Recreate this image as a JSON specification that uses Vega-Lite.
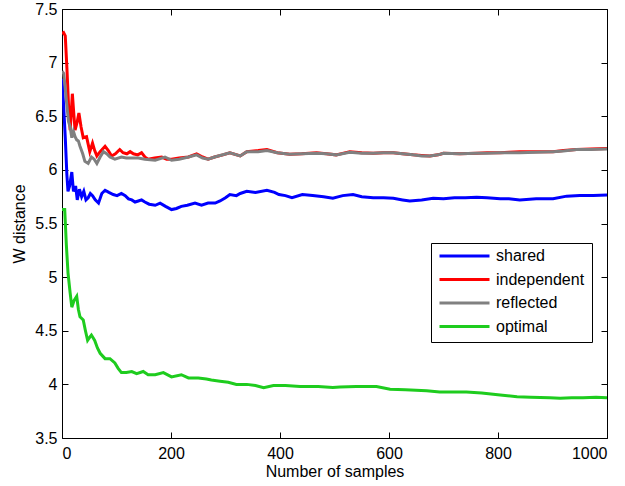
{
  "$schema": "https://vega.github.io/schema/vega-lite/v6.json",
  "width": 545,
  "height": 429,
  "autosize": "none",
  "padding": {"left": 62, "top": 9, "right": 18, "bottom": 48},
  "background": "white",
  "config": {
    "font": "Liberation Sans",
    "view": {"stroke": "black", "strokeWidth": 1},
    "axis": {
      "domain": false,
      "grid": false,
      "tickColor": "black",
      "tickSize": -6,
      "labelFontSize": 16,
      "labelColor": "black",
      "labelFont": "Liberation Sans",
      "titleFont": "Liberation Sans",
      "titleFontSize": 16,
      "titleFontWeight": "normal",
      "titleColor": "black"
    }
  },
  "data": {
    "values": [
      {"n":0,"s":"shared","w":6.85},{"n":3,"s":"shared","w":6.6},{"n":6,"s":"shared","w":6.3},{"n":9,"s":"shared","w":5.95},{"n":11,"s":"shared","w":5.8},{"n":14,"s":"shared","w":5.85},{"n":18,"s":"shared","w":5.98},{"n":21,"s":"shared","w":5.8},{"n":25,"s":"shared","w":5.85},{"n":28,"s":"shared","w":5.72},{"n":32,"s":"shared","w":5.82},{"n":36,"s":"shared","w":5.75},{"n":40,"s":"shared","w":5.8},{"n":44,"s":"shared","w":5.72},{"n":48,"s":"shared","w":5.74},{"n":52,"s":"shared","w":5.78},{"n":56,"s":"shared","w":5.76},{"n":61,"s":"shared","w":5.72},{"n":67,"s":"shared","w":5.69},{"n":73,"s":"shared","w":5.78},{"n":79,"s":"shared","w":5.81},{"n":86,"s":"shared","w":5.79},{"n":94,"s":"shared","w":5.77},{"n":101,"s":"shared","w":5.76},{"n":109,"s":"shared","w":5.78},{"n":116,"s":"shared","w":5.76},{"n":122,"s":"shared","w":5.73},{"n":128,"s":"shared","w":5.72},{"n":134,"s":"shared","w":5.7},{"n":140,"s":"shared","w":5.71},{"n":146,"s":"shared","w":5.72},{"n":152,"s":"shared","w":5.7},{"n":160,"s":"shared","w":5.68},{"n":171,"s":"shared","w":5.67},{"n":180,"s":"shared","w":5.69},{"n":190,"s":"shared","w":5.66},{"n":201,"s":"shared","w":5.63},{"n":210,"s":"shared","w":5.64},{"n":219,"s":"shared","w":5.66},{"n":230,"s":"shared","w":5.67},{"n":244,"s":"shared","w":5.69},{"n":256,"s":"shared","w":5.67},{"n":268,"s":"shared","w":5.69},{"n":281,"s":"shared","w":5.69},{"n":290,"s":"shared","w":5.71},{"n":300,"s":"shared","w":5.74},{"n":308,"s":"shared","w":5.77},{"n":320,"s":"shared","w":5.76},{"n":327,"s":"shared","w":5.78},{"n":339,"s":"shared","w":5.8},{"n":355,"s":"shared","w":5.79},{"n":376,"s":"shared","w":5.81},{"n":390,"s":"shared","w":5.79},{"n":398,"s":"shared","w":5.77},{"n":410,"s":"shared","w":5.76},{"n":422,"s":"shared","w":5.74},{"n":441,"s":"shared","w":5.77},{"n":460,"s":"shared","w":5.76},{"n":480,"s":"shared","w":5.75},{"n":497,"s":"shared","w":5.735},{"n":515,"s":"shared","w":5.76},{"n":534,"s":"shared","w":5.77},{"n":550,"s":"shared","w":5.75},{"n":571,"s":"shared","w":5.74},{"n":590,"s":"shared","w":5.74},{"n":608,"s":"shared","w":5.735},{"n":625,"s":"shared","w":5.72},{"n":638,"s":"shared","w":5.71},{"n":660,"s":"shared","w":5.72},{"n":681,"s":"shared","w":5.735},{"n":700,"s":"shared","w":5.73},{"n":720,"s":"shared","w":5.74},{"n":740,"s":"shared","w":5.74},{"n":761,"s":"shared","w":5.745},{"n":780,"s":"shared","w":5.74},{"n":804,"s":"shared","w":5.73},{"n":820,"s":"shared","w":5.73},{"n":840,"s":"shared","w":5.72},{"n":870,"s":"shared","w":5.73},{"n":901,"s":"shared","w":5.73},{"n":926,"s":"shared","w":5.755},{"n":950,"s":"shared","w":5.76},{"n":975,"s":"shared","w":5.76},{"n":1000,"s":"shared","w":5.765},

      {"n":0,"s":"independent","w":7.27},{"n":3,"s":"independent","w":7.28},{"n":6,"s":"independent","w":7.25},{"n":9,"s":"independent","w":6.95},{"n":12,"s":"independent","w":6.6},{"n":15,"s":"independent","w":6.37},{"n":19,"s":"independent","w":6.71},{"n":22,"s":"independent","w":6.5},{"n":24,"s":"independent","w":6.37},{"n":28,"s":"independent","w":6.45},{"n":31,"s":"independent","w":6.53},{"n":35,"s":"independent","w":6.4},{"n":39,"s":"independent","w":6.3},{"n":45,"s":"independent","w":6.31},{"n":51,"s":"independent","w":6.17},{"n":56,"s":"independent","w":6.25},{"n":60,"s":"independent","w":6.18},{"n":64,"s":"independent","w":6.13},{"n":70,"s":"independent","w":6.17},{"n":79,"s":"independent","w":6.22},{"n":85,"s":"independent","w":6.18},{"n":91,"s":"independent","w":6.13},{"n":98,"s":"independent","w":6.15},{"n":106,"s":"independent","w":6.19},{"n":112,"s":"independent","w":6.16},{"n":119,"s":"independent","w":6.15},{"n":125,"s":"independent","w":6.17},{"n":131,"s":"independent","w":6.15},{"n":139,"s":"independent","w":6.14},{"n":146,"s":"independent","w":6.16},{"n":152,"s":"independent","w":6.12},{"n":158,"s":"independent","w":6.1},{"n":170,"s":"independent","w":6.11},{"n":183,"s":"independent","w":6.12},{"n":192,"s":"independent","w":6.1},{"n":201,"s":"independent","w":6.1},{"n":215,"s":"independent","w":6.11},{"n":232,"s":"independent","w":6.12},{"n":247,"s":"independent","w":6.15},{"n":258,"s":"independent","w":6.12},{"n":268,"s":"independent","w":6.1},{"n":280,"s":"independent","w":6.12},{"n":295,"s":"independent","w":6.14},{"n":308,"s":"independent","w":6.16},{"n":327,"s":"independent","w":6.13},{"n":339,"s":"independent","w":6.17},{"n":360,"s":"independent","w":6.18},{"n":376,"s":"independent","w":6.19},{"n":395,"s":"independent","w":6.16},{"n":418,"s":"independent","w":6.145},{"n":440,"s":"independent","w":6.15},{"n":467,"s":"independent","w":6.16},{"n":485,"s":"independent","w":6.15},{"n":503,"s":"independent","w":6.14},{"n":528,"s":"independent","w":6.17},{"n":550,"s":"independent","w":6.16},{"n":571,"s":"independent","w":6.155},{"n":590,"s":"independent","w":6.16},{"n":608,"s":"independent","w":6.16},{"n":625,"s":"independent","w":6.15},{"n":644,"s":"independent","w":6.14},{"n":660,"s":"independent","w":6.135},{"n":675,"s":"independent","w":6.13},{"n":690,"s":"independent","w":6.14},{"n":700,"s":"independent","w":6.155},{"n":730,"s":"independent","w":6.15},{"n":761,"s":"independent","w":6.155},{"n":780,"s":"independent","w":6.16},{"n":804,"s":"independent","w":6.16},{"n":820,"s":"independent","w":6.165},{"n":840,"s":"independent","w":6.17},{"n":870,"s":"independent","w":6.17},{"n":901,"s":"independent","w":6.17},{"n":920,"s":"independent","w":6.18},{"n":944,"s":"independent","w":6.19},{"n":970,"s":"independent","w":6.195},{"n":1000,"s":"independent","w":6.2},

      {"n":0,"s":"reflected","w":6.92},{"n":3,"s":"reflected","w":6.9},{"n":5,"s":"reflected","w":6.81},{"n":8,"s":"reflected","w":6.65},{"n":12,"s":"reflected","w":6.45},{"n":15,"s":"reflected","w":6.4},{"n":18,"s":"reflected","w":6.3},{"n":21,"s":"reflected","w":6.36},{"n":24,"s":"reflected","w":6.31},{"n":27,"s":"reflected","w":6.28},{"n":30,"s":"reflected","w":6.27},{"n":33,"s":"reflected","w":6.22},{"n":38,"s":"reflected","w":6.15},{"n":42,"s":"reflected","w":6.08},{"n":48,"s":"reflected","w":6.06},{"n":54,"s":"reflected","w":6.12},{"n":59,"s":"reflected","w":6.1},{"n":64,"s":"reflected","w":6.06},{"n":70,"s":"reflected","w":6.12},{"n":76,"s":"reflected","w":6.17},{"n":82,"s":"reflected","w":6.15},{"n":88,"s":"reflected","w":6.12},{"n":97,"s":"reflected","w":6.1},{"n":109,"s":"reflected","w":6.12},{"n":118,"s":"reflected","w":6.11},{"n":128,"s":"reflected","w":6.11},{"n":140,"s":"reflected","w":6.11},{"n":152,"s":"reflected","w":6.1},{"n":171,"s":"reflected","w":6.09},{"n":189,"s":"reflected","w":6.12},{"n":201,"s":"reflected","w":6.09},{"n":215,"s":"reflected","w":6.1},{"n":232,"s":"reflected","w":6.12},{"n":247,"s":"reflected","w":6.14},{"n":258,"s":"reflected","w":6.11},{"n":268,"s":"reflected","w":6.1},{"n":280,"s":"reflected","w":6.12},{"n":308,"s":"reflected","w":6.16},{"n":327,"s":"reflected","w":6.13},{"n":339,"s":"reflected","w":6.17},{"n":360,"s":"reflected","w":6.17},{"n":376,"s":"reflected","w":6.18},{"n":395,"s":"reflected","w":6.16},{"n":418,"s":"reflected","w":6.145},{"n":440,"s":"reflected","w":6.15},{"n":467,"s":"reflected","w":6.155},{"n":485,"s":"reflected","w":6.15},{"n":503,"s":"reflected","w":6.14},{"n":528,"s":"reflected","w":6.165},{"n":550,"s":"reflected","w":6.155},{"n":571,"s":"reflected","w":6.155},{"n":590,"s":"reflected","w":6.16},{"n":608,"s":"reflected","w":6.16},{"n":625,"s":"reflected","w":6.15},{"n":644,"s":"reflected","w":6.14},{"n":660,"s":"reflected","w":6.13},{"n":675,"s":"reflected","w":6.13},{"n":690,"s":"reflected","w":6.14},{"n":700,"s":"reflected","w":6.155},{"n":730,"s":"reflected","w":6.15},{"n":761,"s":"reflected","w":6.155},{"n":780,"s":"reflected","w":6.155},{"n":804,"s":"reflected","w":6.16},{"n":820,"s":"reflected","w":6.16},{"n":840,"s":"reflected","w":6.16},{"n":870,"s":"reflected","w":6.165},{"n":901,"s":"reflected","w":6.17},{"n":920,"s":"reflected","w":6.175},{"n":944,"s":"reflected","w":6.19},{"n":970,"s":"reflected","w":6.19},{"n":1000,"s":"reflected","w":6.195},

      {"n":0,"s":"optimal","w":5.63},{"n":5,"s":"optimal","w":5.63},{"n":8,"s":"optimal","w":5.3},{"n":11,"s":"optimal","w":5.04},{"n":15,"s":"optimal","w":4.85},{"n":18,"s":"optimal","w":4.72},{"n":22,"s":"optimal","w":4.78},{"n":27,"s":"optimal","w":4.82},{"n":30,"s":"optimal","w":4.7},{"n":33,"s":"optimal","w":4.63},{"n":39,"s":"optimal","w":4.6},{"n":43,"s":"optimal","w":4.5},{"n":47,"s":"optimal","w":4.41},{"n":51,"s":"optimal","w":4.44},{"n":54,"s":"optimal","w":4.46},{"n":60,"s":"optimal","w":4.41},{"n":65,"s":"optimal","w":4.34},{"n":70,"s":"optimal","w":4.29},{"n":79,"s":"optimal","w":4.24},{"n":88,"s":"optimal","w":4.24},{"n":97,"s":"optimal","w":4.2},{"n":103,"s":"optimal","w":4.15},{"n":109,"s":"optimal","w":4.11},{"n":118,"s":"optimal","w":4.11},{"n":128,"s":"optimal","w":4.12},{"n":137,"s":"optimal","w":4.1},{"n":149,"s":"optimal","w":4.12},{"n":158,"s":"optimal","w":4.09},{"n":171,"s":"optimal","w":4.09},{"n":186,"s":"optimal","w":4.11},{"n":201,"s":"optimal","w":4.07},{"n":219,"s":"optimal","w":4.09},{"n":232,"s":"optimal","w":4.06},{"n":250,"s":"optimal","w":4.06},{"n":265,"s":"optimal","w":4.05},{"n":274,"s":"optimal","w":4.04},{"n":290,"s":"optimal","w":4.03},{"n":305,"s":"optimal","w":4.02},{"n":320,"s":"optimal","w":4.0},{"n":339,"s":"optimal","w":4.0},{"n":355,"s":"optimal","w":3.99},{"n":370,"s":"optimal","w":3.97},{"n":388,"s":"optimal","w":3.99},{"n":410,"s":"optimal","w":3.99},{"n":437,"s":"optimal","w":3.98},{"n":470,"s":"optimal","w":3.98},{"n":497,"s":"optimal","w":3.97},{"n":510,"s":"optimal","w":3.975},{"n":540,"s":"optimal","w":3.98},{"n":577,"s":"optimal","w":3.98},{"n":602,"s":"optimal","w":3.955},{"n":630,"s":"optimal","w":3.95},{"n":669,"s":"optimal","w":3.94},{"n":693,"s":"optimal","w":3.93},{"n":720,"s":"optimal","w":3.93},{"n":742,"s":"optimal","w":3.93},{"n":770,"s":"optimal","w":3.92},{"n":804,"s":"optimal","w":3.9},{"n":835,"s":"optimal","w":3.885},{"n":860,"s":"optimal","w":3.88},{"n":895,"s":"optimal","w":3.875},{"n":914,"s":"optimal","w":3.87},{"n":935,"s":"optimal","w":3.875},{"n":956,"s":"optimal","w":3.875},{"n":980,"s":"optimal","w":3.88},{"n":1000,"s":"optimal","w":3.875}
    ]
  },
  "layer": [
    {
      "mark": {"type": "line", "strokeWidth": 3, "clip": true},
      "encoding": {
        "x": {
          "field": "n", "type": "quantitative",
          "scale": {"domain": [0, 1000], "nice": false, "zero": false},
          "axis": {"values": [0, 200, 400, 600, 800, 1000], "labelExpr": "'' + datum.value", "title": "Number of samples", "labelPadding": 13, "titlePadding": 2}
        },
        "y": {
          "field": "w", "type": "quantitative",
          "scale": {"domain": [3.5, 7.5], "nice": false, "zero": false},
          "axis": {"values": [3.5, 4, 4.5, 5, 5.5, 6, 6.5, 7, 7.5], "labelExpr": "'' + datum.value", "title": "W distance", "labelPadding": 11, "titlePadding": 7}
        },
        "color": {
          "field": "s", "type": "nominal", "sort": null,
          "scale": {"domain": ["shared", "independent", "reflected", "optimal"], "range": ["#0000ff", "#ff0000", "#808080", "#1ecc1e"]},
          "legend": {
            "title": null,
            "orient": "none",
            "legendX": 369,
            "legendY": 234,
            "direction": "vertical",
            "strokeColor": "black",
            "fillColor": "white",
            "padding": 7,
            "symbolType": "stroke",
            "symbolSize": 2500,
            "symbolStrokeWidth": 3,
            "clipHeight": 12,
            "labelFontSize": 16,
            "labelFont": "Liberation Sans",
            "labelColor": "black",
            "labelOffset": 5,
            "rowPadding": 7.5
          }
        }
      }
    },
    {
      "mark": {"type": "line", "opacity": 0},
      "encoding": {
        "x": {"field": "n", "type": "quantitative", "axis": {"orient": "top", "values": [0, 200, 400, 600, 800, 1000], "labels": false, "title": null}},
        "y": {"field": "w", "type": "quantitative", "axis": {"orient": "right", "values": [3.5, 4, 4.5, 5, 5.5, 6, 6.5, 7, 7.5], "labels": false, "title": null}}
      }
    }
  ],
  "resolve": {"axis": {"x": "independent", "y": "independent"}}
}
